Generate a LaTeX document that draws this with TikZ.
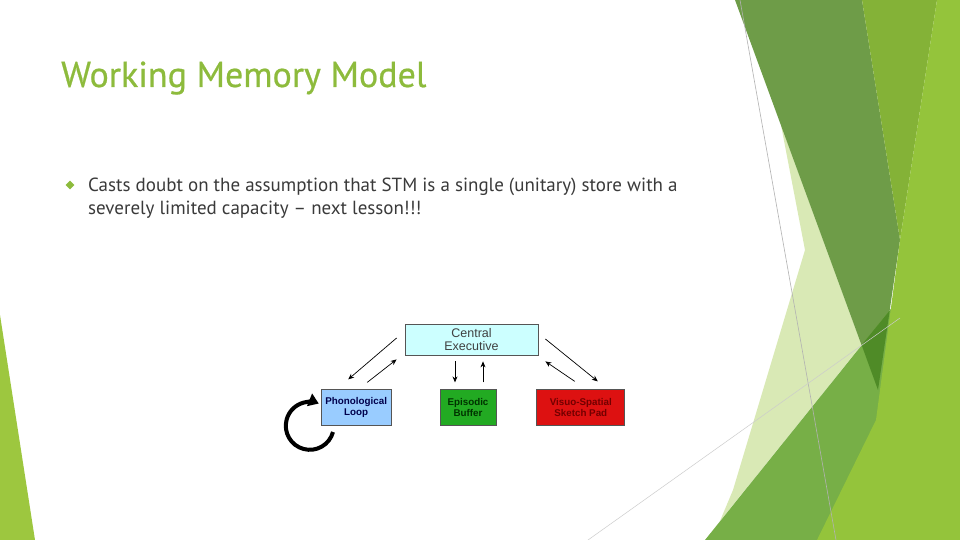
\documentclass[tikz,border=0pt]{standalone}
\usepackage{fontspec}
\setmainfont{PT Sans}
\newfontfamily\titlefont[FakeBold=0.6]{PT Sans}
\newfontfamily\diagfont{Liberation Sans}
\usepackage{tikz}
\usetikzlibrary{arrows.meta,positioning,calc,shapes.geometric}
\definecolor{titlegreen}{HTML}{8DBB3C}
\definecolor{bodygray}{HTML}{3A3A3A}
\definecolor{limeright}{HTML}{94C43B}
\definecolor{olivegreen}{HTML}{84B237}
\definecolor{darkband}{HTML}{6E9C48}
\definecolor{darkcross}{HTML}{4F8B27}
\definecolor{lowgreen}{HTML}{77AF47}
\definecolor{palegreen}{HTML}{D9E9B5}
\definecolor{edgelime}{HTML}{9DC73F}
\definecolor{cefill}{HTML}{CCFFFF}
\definecolor{plfill}{HTML}{99CCFF}
\definecolor{ebfill}{HTML}{22AA22}
\definecolor{vsfill}{HTML}{DD1111}
\definecolor{boxgray}{HTML}{555555}

\begin{document}
\begin{tikzpicture}[x=1pt,y=1pt,
  wmbox/.style={draw=boxgray,line width=0.8,minimum height=36,align=center,
    inner sep=1,font=\diagfont\fontsize{9.8}{10.8}\selectfont\bfseries},
  flow/.style={-{Stealth[length=6,width=5]},line width=0.7}]
  % Slide area
  \fill[white] (0,0) rectangle (960,-540);
  \useasboundingbox (0,0) rectangle (960,-540);

  % Background shapes
  \fill[edgelime] (0,-315) -- (35,-540) -- (0,-540) -- cycle;
  \fill[palegreen] (781,-125) -- (861.6,-345) -- (720,-521) -- (733,-490) -- (805,-250) -- cycle;
  \fill[darkband] (735,0) -- (862,0) -- (900,-240) -- (878,-390) -- cycle;
  \fill[olivegreen] (862,0) -- (937,0) -- (900,-240) -- cycle;
  \fill[lowgreen] (705,-540) -- (960,-223) -- (960,-540) -- cycle;
  \fill[darkcross] (861.6,-345) -- (889.7,-310.5) -- (878,-390) -- cycle;
  \fill[limeright] (937,0) -- (960,0) -- (960,-540) -- (817,-540) -- (876,-420) -- (900,-240) -- cycle;
  \draw[gray!60,line width=0.6] (740,0) -- (836,-540);
  \draw[gray!40,line width=0.5] (588,-540) -- (900,-318);

  % Title and text
  \node[anchor=base west,inner sep=0,text=titlegreen,font=\titlefont\fontsize{36}{42}\selectfont]
    (title) at (61,-87) {Working Memory Model};
  \node[diamond,fill=titlegreen,inner sep=0,minimum size=9] (bullet) at (70,-185) {};
  \node[anchor=base west,inner sep=0,text=bodygray,font=\fontsize{19}{22}\selectfont]
    (line1) at (88,-191) {Casts doubt on the assumption that STM is a single (unitary) store with a};
  \node[anchor=base west,inner sep=0,text=bodygray,font=\fontsize{19}{22}\selectfont]
    (line2) at (88,-214) {severely limited capacity -- next lesson!!!};

  % Working memory boxes
  \node[wmbox,fill=cefill,minimum width=133,minimum height=31,
    font=\diagfont\fontsize{12.5}{13.5}\selectfont,text=black!75] (ce) at (471.5,-339.5) {Central\\Executive};
  \node[wmbox,fill=ebfill,minimum width=56,text=black!80!green,
    below=34 of ce,xshift=-3.5] (eb) {Episodic\\Buffer};
  \node[wmbox,fill=plfill,minimum width=70,text=blue!30!black,
    left=48 of eb] (pl) {Phonological\\Loop};
  \node[wmbox,fill=vsfill,minimum width=88,text=red!45!black,
    right=40 of eb] (vs) {Visuo-Spatial\\Sketch Pad};

  % Arrows
  \draw[flow] ($(ce.west)+(-8,1.5)$) -- ($(pl.north)+(-8,10)$);
  \draw[flow] ($(pl.north)+(11,7)$) -- ($(ce.south west)+(-8,-4)$);
  \draw[flow] ($(ce.south)+(-16.5,-6)$) -- ($(eb.north)+(-13,7)$);
  \draw[flow] ($(eb.north)+(15,7)$) -- ($(ce.south)+(11.5,-6)$);
  \draw[flow] ($(ce.east)+(7,0.5)$) -- ($(vs.north)+(17,8)$);
  \draw[flow] ($(vs.north)+(-6,8)$) -- ($(ce.south east)+(7,-6)$);

  % Rehearsal loop
  \coordinate (loopc) at ($(pl.west)+(-11,-18)$);
  \draw[line width=4,-{Triangle[length=10,width=13]}]
    ([shift={(-15:24)}]loopc) arc[start angle=-15,end angle=-292,radius=24];
\end{tikzpicture}
\end{document}
